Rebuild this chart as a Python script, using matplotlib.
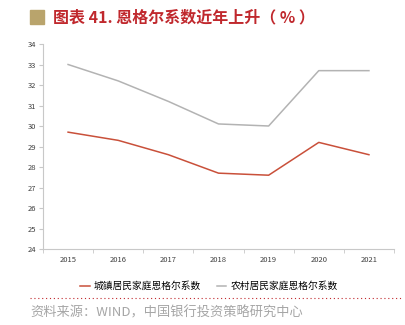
import matplotlib
matplotlib.use("Agg")
import matplotlib.pyplot as plt
import numpy as np

plt.rcParams["font.family"] = ["Noto Sans CJK SC", "DejaVu Sans"]

years = ["2015", "2016", "2017", "2018", "2019", "2020", "2021"]
urban = [29.7, 29.3, 28.6, 27.7, 27.6, 29.2, 28.6]
rural = [33.0, 32.2, 31.2, 30.1, 30.0, 32.7, 32.7]
yticks = list(range(24, 35))

fig = plt.figure(figsize=(4.06, 3.25), dpi=100)
ax = fig.add_axes([43 / 406, 76 / 325, 351 / 406, 205 / 325])

x = np.arange(len(years))
ax.plot(x, urban, color="#C9503A", lw=1.1, label="城镇居民家庭恩格尔系数")
ax.plot(x, rural, color="#B3B3B3", lw=1.1, label="农村居民家庭恩格尔系数")

ax.set_xlim(-0.5, len(years) - 0.5)
ax.set_ylim(24, 34)
ax.set_yticks(yticks)
ax.set_yticklabels([str(v) for v in yticks], fontsize=5.5, color="#404040")
ax.set_xticks(x)
ax.set_xticklabels(years, fontsize=5.5, color="#404040")
ax.set_xticks(np.arange(-0.5, len(years)), minor=True)
ax.tick_params(axis="x", which="major", length=0, pad=5)
ax.tick_params(axis="x", which="minor", length=3, color="#C8C8C8", direction="out")
ax.tick_params(axis="y", length=3, color="#C8C8C8", pad=2)

for s in ["top", "right"]:
    ax.spines[s].set_visible(False)
for s in ["left", "bottom"]:
    ax.spines[s].set_color("#C8C8C8")
    ax.spines[s].set_linewidth(0.8)

fig.legend(loc="center", bbox_to_anchor=(209 / 406, 1 - 286 / 325), ncol=2,
           frameon=False, fontsize=7, handlelength=1.0, columnspacing=1.6,
           handletextpad=0.4)

# title
fig.patches.append(plt.Rectangle((30 / 406, 1 - 24 / 325), 14 / 406, 14 / 325,
                                 transform=fig.transFigure, color="#B9A46C"))
fig.text(53 / 406, 1 - 17 / 325, "图表 41. 恩格尔系数近年上升（ % ）", fontsize=11.5,
         fontweight="bold", color="#C0282D", va="center", ha="left")

# dotted separator
fig.add_artist(plt.Line2D([30 / 406, 402 / 406], [1 - 298 / 325, 1 - 298 / 325],
                          transform=fig.transFigure, color="#C0282D", lw=0.8,
                          linestyle=(0, (1, 2.5))))
fig.text(30 / 406, 1 - 313 / 325, "资料来源：WIND，中国银行投资策略研究中心",
         fontsize=9.5, color="#A6A6A6", va="center", ha="left")

fig.savefig("out.png", dpi=100)
